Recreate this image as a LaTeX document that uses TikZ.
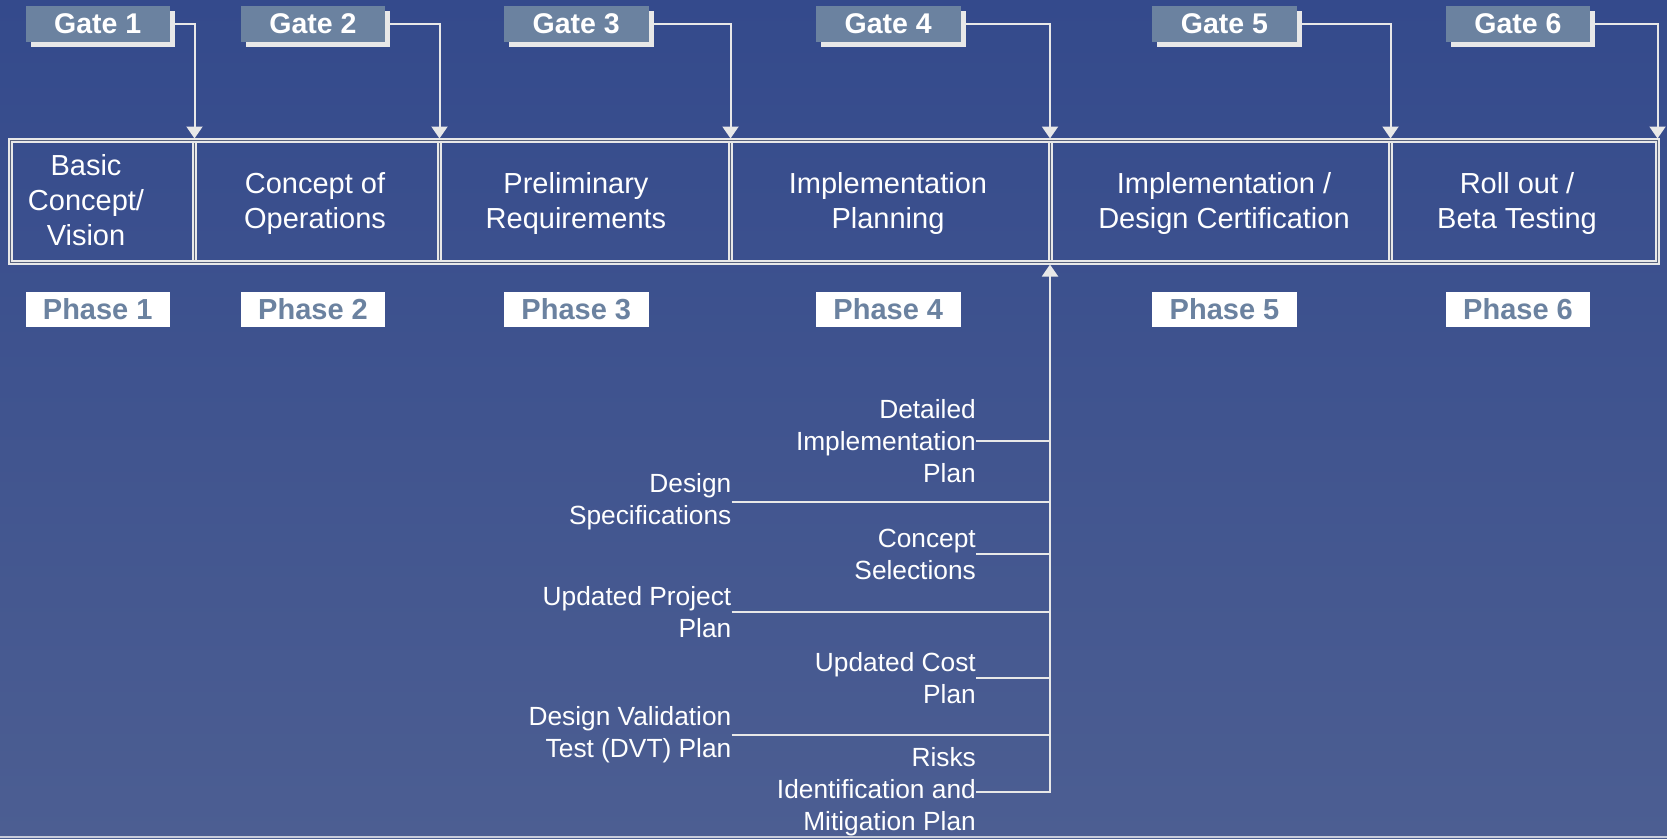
\documentclass[tikz,border=0pt]{standalone}
\usepackage{fontspec}
\setmainfont{Liberation Sans}
\usetikzlibrary{arrows.meta,shadows}
\definecolor{bgtop}{RGB}{52,74,140}
\definecolor{bgbot}{RGB}{76,94,146}
\definecolor{gatefill}{RGB}{107,130,160}
\definecolor{lightln}{RGB}{232,232,232}
\definecolor{core}{RGB}{88,98,125}
\definecolor{edgeln}{RGB}{200,204,218}
\begin{document}
\begin{tikzpicture}[x=1pt,y=-1pt,
  gate/.style={rectangle, fill=gatefill, minimum width=144.5pt, minimum height=36pt, inner sep=0pt,
    text=white, font=\bfseries\fontsize{28.5}{34}\selectfont,
    drop shadow={shadow xshift=5pt, shadow yshift=-5pt, fill=lightln, opacity=1}},
  phase/.style={rectangle, fill=white, minimum width=144.5pt, minimum height=35pt, inner sep=0pt,
    text=gatefill, font=\bfseries\fontsize{29}{34}\selectfont},
  celltext/.style={align=center, text=white, font=\fontsize{29}{35}\selectfont, inner sep=0pt},
  deliv/.style={align=right, anchor=east, text=white, font=\fontsize{26.3}{32}\selectfont, inner sep=0pt},
  conn/.style={draw=lightln, line width=2pt},
  tip/.style={-{Triangle[width=16pt,length=12pt]}},
  bandln/.style={draw=lightln, line width=2pt, double=core, double distance=1pt}]
\shade[top color=bgtop, bottom color=bgbot] (0,0) rectangle (1667,838);
\useasboundingbox (0,0) rectangle (1667,838);
\fill[edgeln] (0,835.5) rectangle (1667,838);

% band
\foreach \x in {194.5,439.5,730.5,1050,1390.5}
  \draw[bandln] (\x,140.5) -- (\x,262.5);
\draw[bandln] (10.5,140.5) rectangle (1657.5,262.5);

\coordinate (d1) at (194.5,138.5);
\coordinate (d2) at (439.5,138.5);
\coordinate (d3) at (730.5,138.5);
\coordinate (d4) at (1050,138.5);
\coordinate (d5) at (1390.5,138.5);
\coordinate (d6) at (1657.5,138.5);
\coordinate (up) at (1050,264.5);

% cell texts
\node[celltext] (t1) at (86,200) {Basic\\Concept/\\Vision};
\node[celltext] (t2) at (315,203.5) {Concept of\\Operations};
\node[celltext] (t3) at (576,203.5) {Preliminary\\Requirements};
\node[celltext] (t4) at (888,203.5) {Implementation\\Planning};
\node[celltext] (t5) at (1224,203.5) {Implementation /\\Design Certification};
\node[celltext] (t6) at (1517,203.5) {Roll out /\\Beta Testing};

% gates
\node[gate] (g1) at (97.75,24) {Gate 1};
\node[gate] (g2) at (313,24) {Gate 2};
\node[gate] (g3) at (576.25,24) {Gate 3};
\node[gate] (g4) at (888.25,24) {Gate 4};
\node[gate] (g5) at (1224.5,24) {Gate 5};
\node[gate] (g6) at (1518,24) {Gate 6};

% phases
\node[phase] (p1) at (97.75,309.5) {Phase 1};
\node[phase] (p2) at (313,309.5) {Phase 2};
\node[phase] (p3) at (576.25,309.5) {Phase 3};
\node[phase] (p4) at (888.25,309.5) {Phase 4};
\node[phase] (p5) at (1224.5,309.5) {Phase 5};
\node[phase] (p6) at (1518,309.5) {Phase 6};

% gate arrows
\draw[conn,tip] ([xshift=5pt]g1.east) -| (d1);
\draw[conn,tip] ([xshift=5pt]g2.east) -| (d2);
\draw[conn,tip] ([xshift=5pt]g3.east) -| (d3);
\draw[conn,tip] ([xshift=5pt]g4.east) -| (d4);
\draw[conn,tip] ([xshift=5pt]g5.east) -| (d5);
\draw[conn,tip] ([xshift=5pt]g6.east) -| (d6);

% deliverables
\node[deliv] (det) at (976,441) {Detailed\\Implementation\\Plan};
\node[deliv] (cs) at (976,554) {Concept\\Selections};
\node[deliv] (uc) at (976,678) {Updated Cost\\Plan};
\node[deliv] (risk) at (976,792) {Risks\\Identification and\\Mitigation Plan};
\node[deliv] (ds) at (731.5,502) {Design\\Specifications};
\node[deliv] (upp) at (731.5,612) {Updated Project\\Plan};
\node[deliv] (dvt) at (731.5,734.5) {Design Validation\\Test (DVT) Plan};

\draw[conn,tip] (risk.east) -| (up);
\draw[conn] (det.east) -- (det.east -| up);
\draw[conn] (cs.east) -- (cs.east -| up);
\draw[conn] (uc.east) -- (uc.east -| up);
\draw[conn] (ds.east) -- (ds.east -| up);
\draw[conn] (upp.east) -- (upp.east -| up);
\draw[conn] (dvt.east) -- (dvt.east -| up);
\end{tikzpicture}
\end{document}
